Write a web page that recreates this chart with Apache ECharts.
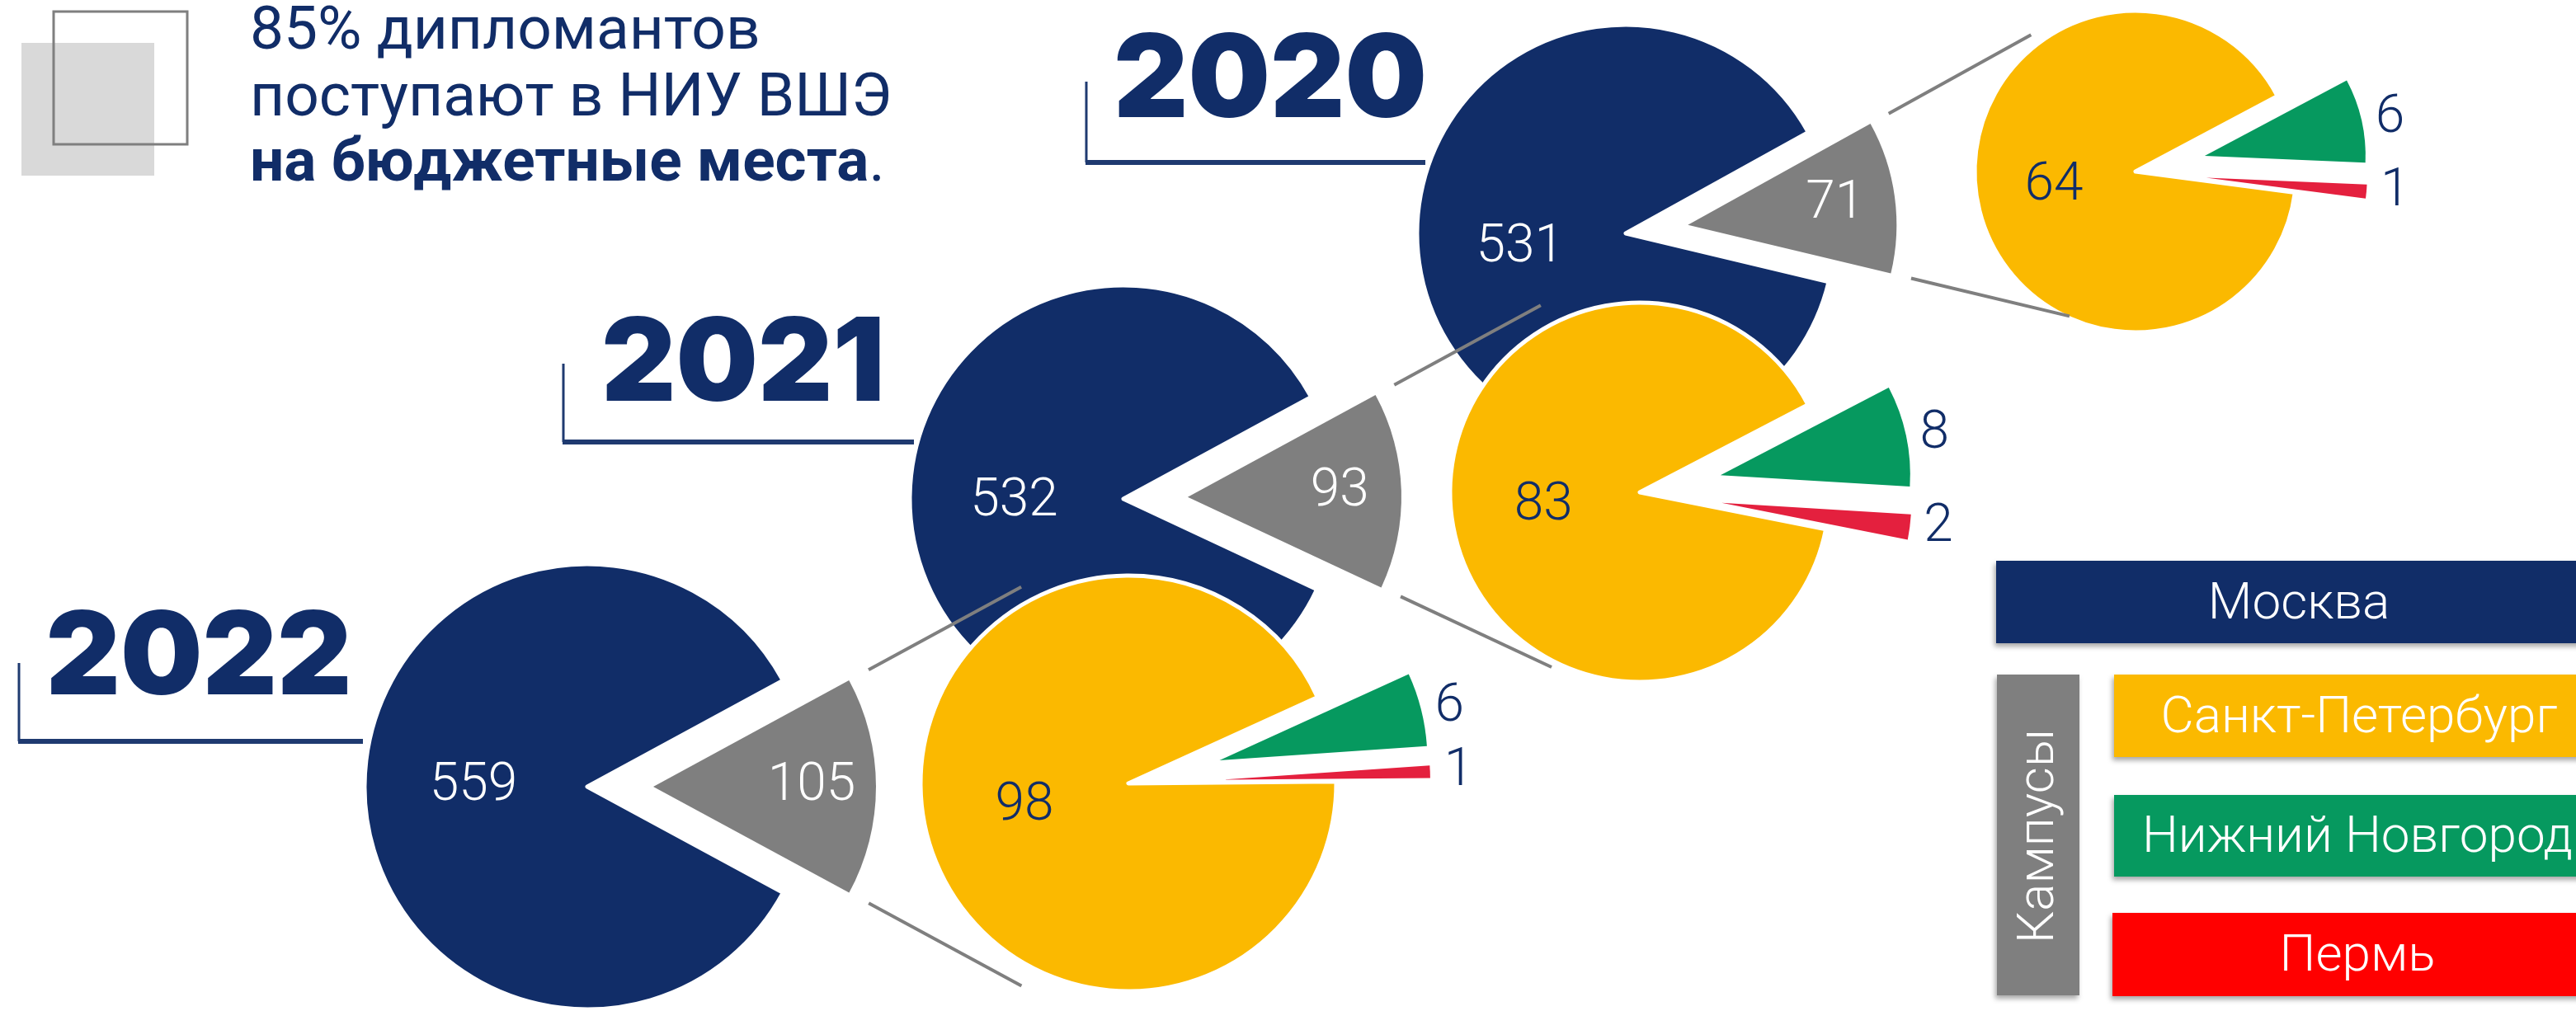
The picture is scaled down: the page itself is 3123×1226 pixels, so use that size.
<!DOCTYPE html>
<html>
<head>
<meta charset="utf-8">
<script src="https://cdn.jsdelivr.net/npm/echarts@6/dist/echarts.min.js"></script>
<style>
  html, body { margin: 0; padding: 0; background: #fff; }
  #chart { width: 3123px; height: 1226px; }
</style>
</head>
<body>
<div id="chart"></div>
<script>
// data
const years = ['2020', '2021', '2022'];
const moscow = [531, 532, 559];
const campuses = [71, 93, 105];
const spb = [64, 83, 98];
const nnov = [6, 8, 6];
const perm = [1, 2, 1];
const campusName = 'Кампусы';
const cityNames = ['Москва', 'Санкт-Петербург', 'Нижний Новгород', 'Пермь'];

const NAVY = '#112d68';
const GRAY = '#7f7f7f';
const YELLOW = '#fbb900';
const GREEN = '#06995f';
const RED = '#e4203e';
const LEGEND_RED = '#ff0000';
const BRACKET = '#1f3a70';
const NUM_FONT = 'Roboto';

// placement of each year's pair of pies (px)
const layout = [
  { navy: [1971, 283], rN: 253, offN: 76, startN: 29, yel: [2589, 208], rY: 195, offY: 86, startY: 28,
    title: [1540, 100], bracket: [1317, 99, 1728, 197] },
  { navy: [1362, 605], rN: 259, offN: 78, startN: 28.5, yel: [1988, 597], rY: 230, offY: 100, startY: 27.5,
    title: [901, 444], bracket: [683, 441, 1108, 536] },
  { navy: [712, 954], rN: 270, offN: 80, startN: 28.5, yel: [1368, 950], rY: 252, offY: 114, startY: 24.5,
    title: [241, 800], bracket: [23, 804, 440, 899] }
];

const rad = a => a * Math.PI / 180;
const series = [];
const graphics = [];

years.forEach((yr, i) => {
  const L = layout[i];
  const spanN = 360 * campuses[i] / (moscow[i] + campuses[i]);
  const midN = rad(L.startN - spanN / 2);

  series.push({
    type: 'pie',
    center: L.navy,
    radius: L.rN,
    startAngle: L.startN,
    selectedMode: 'multiple',
    selectedOffset: L.offN,
    avoidLabelOverlap: false,
    silent: true,
    label: {
      position: 'inside', formatter: '{c}', color: '#fff',
      fontFamily: NUM_FONT, fontWeight: 300, fontSize: 64
    },
    labelLine: { show: false },
    labelLayout: p => p.dataIndex === 0
      ? { dx: 0.2 * L.rN * Math.cos(midN), dy: -0.2 * L.rN * Math.sin(midN), hideOverlap: false }
      : { hideOverlap: false },
    select: { itemStyle: { borderWidth: 0 } },
    data: [
      { name: campusName, value: campuses[i], selected: true, itemStyle: { color: GRAY } },
      { name: cityNames[0], value: moscow[i], itemStyle: { color: NAVY, borderColor: '#fff', borderWidth: 5 } }
    ]
  });

  series.push({
    type: 'pie',
    center: L.yel,
    radius: L.rY,
    startAngle: L.startY,
    selectedMode: 'multiple',
    selectedOffset: L.offY,
    avoidLabelOverlap: false,
    minShowLabelAngle: 0,
    silent: true,
    label: {
      position: 'inside', formatter: '{c}', color: NAVY,
      fontFamily: NUM_FONT, fontWeight: 300, fontSize: 64, lineHeight: 50
    },
    labelLine: { show: false, length: 8, length2: 4 },
    labelLayout: { hideOverlap: false },
    select: { itemStyle: { borderWidth: 0 } },
    data: [
      { name: cityNames[2], value: nnov[i], selected: true, itemStyle: { color: GREEN },
        label: { position: 'outside' } },
      { name: cityNames[3], value: perm[i], selected: true, itemStyle: { color: RED },
        label: { position: 'outside' } },
      { name: cityNames[1], value: spb[i], itemStyle: { color: YELLOW, borderColor: '#fff', borderWidth: 5 } }
    ]
  });

  // connector lines continue the edges of the campus wedge
  const tx = L.navy[0] + L.offN * Math.cos(midN);
  const ty = L.navy[1] - L.offN * Math.sin(midN);
  [L.startN, L.startN - spanN].forEach(a => {
    const c = Math.cos(rad(a)), s = Math.sin(rad(a));
    graphics.push({
      type: 'line', z: 100,
      shape: { x1: tx + 1.1 * L.rN * c, y1: ty - 1.1 * L.rN * s, x2: tx + 1.88 * L.rN * c, y2: ty - 1.88 * L.rN * s },
      style: { stroke: GRAY, lineWidth: 4 }
    });
  });

  // year title + bracket
  graphics.push({
    type: 'text', x: L.title[0], y: L.title[1],
    style: { text: yr, fill: NAVY, font: '900 140px Inter', textAlign: 'center', textVerticalAlign: 'middle', align: 'center', verticalAlign: 'middle' }
  });
  const b = L.bracket;
  graphics.push({ type: 'line', shape: { x1: b[0], y1: b[1], x2: b[0], y2: b[3] }, style: { stroke: BRACKET, lineWidth: 3 } });
  graphics.push({ type: 'line', shape: { x1: b[0] - 1, y1: b[3], x2: b[2], y2: b[3] }, style: { stroke: BRACKET, lineWidth: 6 } });
});

// headline block
graphics.push(
  { type: 'rect', shape: { x: 26, y: 52, width: 161, height: 161 }, style: { fill: '#d9d9d9' } },
  { type: 'rect', shape: { x: 65, y: 14, width: 162, height: 161 }, style: { fill: 'none', stroke: GRAY, lineWidth: 3 } },
  { type: 'text', x: 303, y: 41, style: { text: '85% дипломантов', fill: NAVY, font: '400 73px Roboto', textVerticalAlign: 'middle', verticalAlign: 'middle' } },
  { type: 'text', x: 303, y: 122, style: { text: 'поступают в НИУ ВШЭ', fill: NAVY, font: '400 73px Roboto', textVerticalAlign: 'middle', verticalAlign: 'middle' } },
  { type: 'text', x: 303, y: 201, style: {
      text: '{b|на бюджетные места}.', fill: NAVY, font: '400 73px Roboto', textVerticalAlign: 'middle', verticalAlign: 'middle',
      rich: { b: { fill: NAVY, font: '700 73px Roboto', fontWeight: 700, fontSize: 73, fontFamily: 'Roboto' } }
  } }
);

// legend boxes
const shadow = { shadowBlur: 6, shadowOffsetX: -2, shadowOffsetY: 4, shadowColor: 'rgba(0,0,0,0.35)' };
const legendBoxes = [
  { x: 2420, y: 680, w: 760, h: 100, color: NAVY, text: cityNames[0], tx: 2787 },
  { x: 2563, y: 818, w: 600, h: 100, color: YELLOW, text: cityNames[1], tx: 2860 },
  { x: 2563, y: 964, w: 600, h: 99, color: GREEN, text: cityNames[2], tx: 2858 },
  { x: 2561, y: 1107, w: 600, h: 101, color: LEGEND_RED, text: cityNames[3], tx: 2858 }
];
legendBoxes.forEach(l => {
  graphics.push({ type: 'rect', shape: { x: l.x, y: l.y, width: l.w, height: l.h }, style: Object.assign({ fill: l.color }, shadow) });
  graphics.push({ type: 'text', x: l.tx, y: l.y + l.h / 2 + 4, style: {
    text: l.text, fill: '#fff', font: '300 62px Roboto', textAlign: 'center', align: 'center', textVerticalAlign: 'middle', verticalAlign: 'middle' } });
});
graphics.push(
  { type: 'rect', shape: { x: 2421, y: 818, width: 100, height: 389 }, style: Object.assign({ fill: GRAY }, shadow) },
  { type: 'text', x: 2473, y: 1014, rotation: Math.PI / 2, style: {
    text: campusName, fill: '#fff', font: '300 62px Roboto', textAlign: 'center', align: 'center', textVerticalAlign: 'middle', verticalAlign: 'middle' } }
);

const chart = echarts.init(document.getElementById('chart'));
chart.setOption({
  backgroundColor: '#fff',
  animation: false,
  series: series,
  graphic: { elements: graphics }
});
</script>
</body>
</html>
